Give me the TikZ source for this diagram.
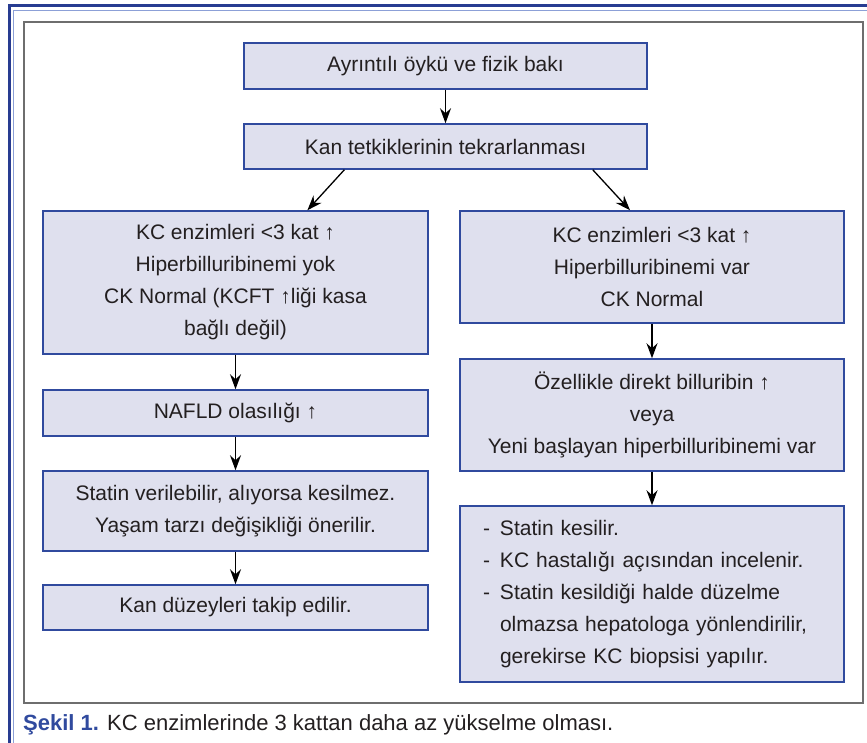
\documentclass[tikz,border=0pt]{standalone}
\usepackage{fontspec}
\setmainfont{Liberation Sans}
\usetikzlibrary{arrows.meta,calc}
\definecolor{kutumavi}{RGB}{48,74,158}
\definecolor{kutudolgu}{RGB}{223,224,238}
\definecolor{cerceve}{RGB}{40,60,145}
\definecolor{acikmavi}{RGB}{140,160,215}
\definecolor{yazi}{RGB}{35,31,32}
\definecolor{gricizgi}{RGB}{110,110,110}

\begin{document}
\begin{tikzpicture}[x=1pt, y=-1pt,
    kutu/.style={draw=kutumavi, line width=1.5pt, fill=kutudolgu, text=yazi, align=center,
                 font=\fontsize{21}{32}\selectfont, inner sep=0pt},
    ok/.style={draw=black, line width=1.3pt, -{Stealth[length=15pt, width=11pt, inset=5pt]}}]
    \useasboundingbox (0,0) rectangle (867,743);
    % dis cerceve
    \draw[cerceve, line width=3pt](867,6)--(9,6)--(9,743);
    \draw[acikmavi, line width=1pt](867,10.5)--(13,10.5)--(13,743);
    \draw[gricizgi, line width=1.5pt](24,22) rectangle (863,703);

    \node[kutu, minimum width=403pt, minimum height=46pt](A)at(445.5,66){Ayrıntılı öykü ve fizik bakı};
    \node[kutu, minimum width=403pt, minimum height=45pt](B)at(445.5,146.5){Kan tetkiklerinin tekrarlanması};

    % sol kol
    \node[kutu, minimum width=385pt, minimum height=143pt](L1)at(235.5,282.5){KC enzimleri <3 kat ↑\\Hiperbilluribinemi yok\\CK Normal (KCFT ↑liği kasa\\bağlı değil)};
    \node[kutu, minimum width=385pt, minimum height=46pt](L2)at(235.5,413){NAFLD olasılığı ↑};
    \node[kutu, minimum width=385pt, minimum height=80pt](L3)at(235.5,511){Statin verilebilir, alıyorsa kesilmez.\\Yaşam tarzı değişikliği önerilir.};
    \node[kutu, minimum width=385pt, minimum height=45pt](L4)at(235.5,607.5){Kan düzeyleri takip edilir.};

    % sag kol
    \node[kutu, minimum width=384pt, minimum height=112pt](R1)at(652,267){KC enzimleri <3 kat ↑\\Hiperbilluribinemi var\\CK Normal};
    \node[kutu, minimum width=384pt, minimum height=112pt](R2)at(652,415){Özellikle direkt billuribin ↑\\veya\\Yeni başlayan hiperbilluribinemi var};
    \node[kutu, minimum width=384pt, minimum height=176pt, text width=338pt, align=left, inner xsep=23pt](R3)at(652,594){%
        \makebox[17pt][l]{-}Statin kesilir.\\
        \makebox[17pt][l]{-}KC hastalığı açısından incelenir.\\
        \makebox[17pt][l]{-}Statin kesildiği halde düzelme\\
        \hspace*{17pt}olmazsa hepatologa yönlendirilir,\\
        \hspace*{17pt}gerekirse KC biopsisi yapılır.};

    \path[ok](A)to(B);
    \path[ok]($(B.south west)!0.25!(B.south east)$)to($(L1.north west)!0.686!(L1.north east)$);
    \path[ok]($(B.south west)!0.864!(B.south east)$)to($(R1.north west)!0.443!(R1.north east)$);
    \path[ok](L1)to(L2);
    \path[ok](L2)to(L3);
    \path[ok](L3)to(L4);
    \path[ok](R1)to(R2);
    \path[ok](R2)to(R3);

    \node[anchor=west, inner sep=0pt, text=yazi, font=\fontsize{22}{26}\selectfont](S)at(23,725)
        {\textcolor{kutumavi}{\bfseries Şekil 1.} KC enzimlerinde 3 kattan daha az yükselme olması.};
\end{tikzpicture}
\end{document}
